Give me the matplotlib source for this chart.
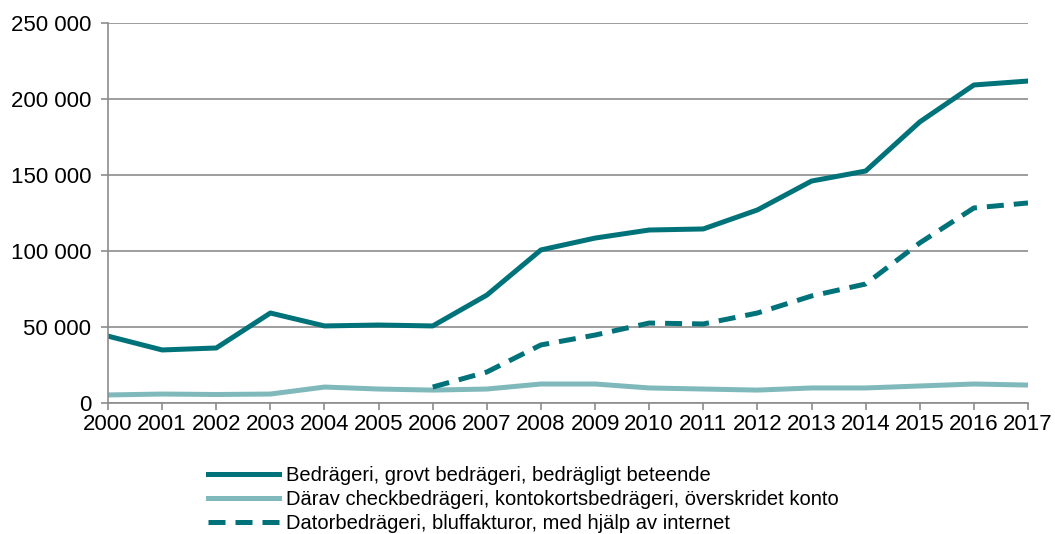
import numpy as np
import matplotlib
matplotlib.use('Agg')
import matplotlib.pyplot as plt
from matplotlib.ticker import FuncFormatter

years = list(range(2000, 2018))
total = [44000, 34900, 36200, 59200, 50700, 51300, 50700, 71000, 100700, 108500,
         113800, 114500, 127000, 146000, 152600, 184900, 209200, 211800]
check = [5300, 5900, 5600, 5900, 10500, 9200, 8500, 9200, 12500, 12500,
         9900, 9200, 8500, 9900, 9900, 11200, 12500, 11800]
dator_years = list(range(2006, 2018))
dator = [10500, 20400, 38200, 44700, 52600, 52000, 59200, 70400, 78300,
         105300, 128300, 131600]

labels = ["Bedrägeri, grovt bedrägeri, bedrägligt beteende",
          "Därav checkbedrägeri, kontokortsbedrägeri, överskridet konto",
          "Datorbedrägeri, bluffakturor, med hjälp av internet"]

dark = '#00737a'
light = '#80b9bb'
grey = '#8c8c8c'

plt.rcParams['font.family'] = ['Liberation Sans', 'DejaVu Sans']
fig = plt.figure(figsize=(10.55, 5.34), dpi=100)
ax = fig.add_axes([0.1024, 0.2453, 0.872, 0.7117])

ax.plot(years, total, color=dark, lw=3.6, label=labels[0])
ax.plot(years, check, color=light, lw=3.6, label=labels[1])
ax.plot(dator_years, dator, color=dark, lw=3.6, ls=(0, (3.4, 2)), label=labels[2])

ax.set_xlim(2000, 2017)
ax.set_ylim(0, 250000)
ax.set_xticks(years)
ax.set_yticks(np.arange(0, 250001, 50000))
ax.yaxis.set_major_formatter(FuncFormatter(lambda v, p: f"{int(v):,}".replace(',', ' ')))
ax.grid(axis='y', color=grey, lw=1.2)
ax.set_axisbelow(True)
for s in ['top', 'right']:
    ax.spines[s].set_visible(False)
for s in ['left', 'bottom']:
    ax.spines[s].set_color(grey)
    ax.spines[s].set_linewidth(1.2)
ax.tick_params(axis='both', colors=grey, labelcolor='black', labelsize=16, length=5, width=1.2)
ax.tick_params(axis='y', pad=7)
ax.tick_params(axis='x', pad=3)

ax.legend(loc='upper left', bbox_to_anchor=(0.1, -0.145), frameon=False,
          fontsize=14.5, handlelength=3.5, handletextpad=0.35, labelspacing=0.25,
          borderaxespad=0)

fig.savefig('out.png', dpi=100)
